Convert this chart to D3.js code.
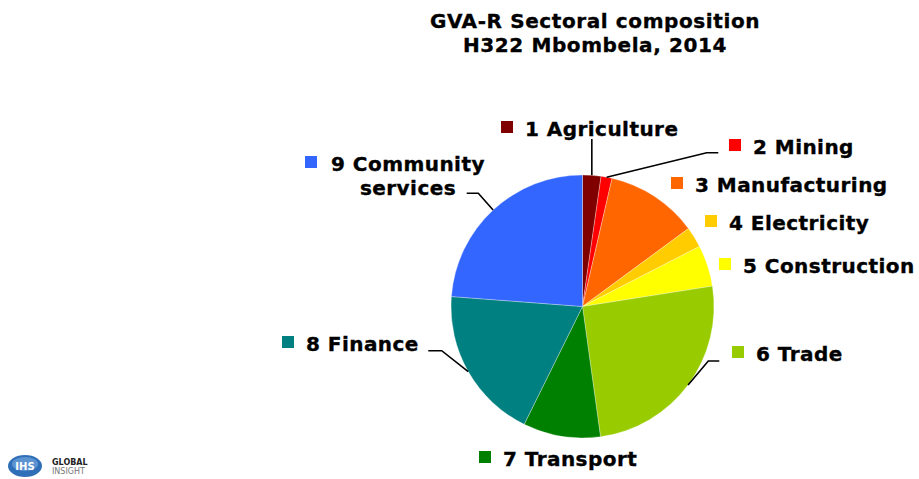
<!DOCTYPE html>
<html>
<head>
<meta charset="utf-8">
<script src="https://cdn.jsdelivr.net/npm/d3@7/dist/d3.min.js"></script>
<style>
    body { margin: 0; background: #fff; }
    svg text { font-family: "DejaVu Sans", Verdana, sans-serif; font-weight: bold; fill: #000; }
</style>
</head>
<body>
<div id="chart"></div>
<script>
// data (share of GVA-R, %)
const sectors = ["1 Agriculture", "2 Mining", "3 Manufacturing", "4 Electricity", "5 Construction",
    "6 Trade", "7 Transport", "8 Finance", "9 Community services"];
const shares = [2.26, 1.35, 11.3, 2.55, 5.07, 25.3, 9.5, 18.9, 23.8];
const colours = ["#800000", "#ff0000", "#ff6600", "#ffcc00", "#ffff00",
    "#99cc00", "#008000", "#008080", "#3366ff"];
const titleLines = ["GVA-R Sectoral composition", "H322 Mbombela, 2014"];

const width = 919, height = 479;
const cx = 582.5, cy = 306.5, radius = 131.5;

// where each legend label sits; elbow = leader line bend points (label side last)
const labelLayout = [
    { x: 501, y: 136, elbow: [[592, 139]] },
    { x: 729, y: 154, elbow: [[706.7, 152.7], [718.3, 152.7]] },
    { x: 671, y: 192 },
    { x: 705, y: 230 },
    { x: 719, y: 273 },
    { x: 732, y: 361, elbow: [[708.3, 361], [719.3, 361]] },
    { x: 479, y: 466 },
    { x: 282, y: 351, elbow: [[441.7, 350.7], [428.3, 350.7]] },
    { x: 305, y: 171, wrapAt: 408, elbow: [[478.3, 193.3], [466.7, 193.3]] }
];

const svg = d3.select("#chart").append("svg")
    .attr("width", width)
    .attr("height", height);

// title
svg.append("g").selectAll("text")
    .data(titleLines)
    .join("text")
    .attr("x", 595)
    .attr("y", (d, i) => 27.5 + i * 24)
    .attr("text-anchor", "middle")
    .style("font-size", "20px")
    .style("letter-spacing", "0.6px")
    .style("stroke", "#000")
    .style("stroke-width", "0.35px")
    .text(d => d);

const pie = d3.pie().sort(null).value(d => d);
const arcs = pie(shares);
const arc = d3.arc().innerRadius(0).outerRadius(radius);
const edge = d3.arc().innerRadius(radius).outerRadius(radius);

const g = svg.append("g").attr("transform", `translate(${cx},${cy})`);

g.selectAll("path.slice")
    .data(arcs)
    .join("path")
    .attr("class", "slice")
    .attr("d", arc)
    .attr("fill", (d, i) => colours[i])
    .attr("stroke", "#ffffff")
    .attr("stroke-opacity", 0.5)
    .attr("stroke-width", 0.6);

// leader lines
const line = d3.line();
arcs.forEach((d, i) => {
    const lay = labelLayout[i];
    if (!lay.elbow) return;
    const [ex, ey] = edge.centroid(d);
    const pts = [[ex + cx, ey + cy]].concat(lay.elbow);
    if (i === 0) pts[1] = [pts[0][0], lay.elbow[0][1]];
    svg.append("path")
        .attr("d", line(pts))
        .attr("fill", "none")
        .attr("stroke", "#000")
        .attr("stroke-width", 1.6);
});

// labels
const labels = svg.append("g").selectAll("g")
    .data(sectors)
    .join("g");

labels.append("rect")
    .attr("x", (d, i) => labelLayout[i].x)
    .attr("y", (d, i) => labelLayout[i].y - 15)
    .attr("width", 12)
    .attr("height", 12)
    .attr("fill", (d, i) => colours[i]);

labels.each(function (d, i) {
    const lay = labelLayout[i];
    const t = d3.select(this).append("text")
        .style("font-size", "20px")
        .style("letter-spacing", "0.45px")
        .style("stroke", "#000")
        .style("stroke-width", "0.35px");
    if (lay.wrapAt) {
        const words = d.split(" ");
        t.attr("text-anchor", "middle");
        t.append("tspan").attr("x", lay.wrapAt).attr("y", lay.y).text(words.slice(0, 2).join(" "));
        t.append("tspan").attr("x", lay.wrapAt).attr("y", lay.y + 24).text(words.slice(2).join(" "));
    } else {
        t.attr("x", lay.x + 24).attr("y", lay.y).text(d);
    }
});

// IHS Global Insight logo
const logo = svg.append("g").attr("transform", "translate(25,466)");
logo.append("ellipse").attr("rx", 17).attr("ry", 11).attr("fill", "#2f6fb8");
logo.append("ellipse").attr("rx", 13).attr("ry", 7).attr("cy", -2).attr("fill", "#6fa3db").attr("opacity", 0.7);
logo.append("text").attr("text-anchor", "middle").attr("y", 4)
    .style("font-size", "10px").style("fill", "#fff").text("IHS");
logo.append("text").attr("x", 27).attr("y", -1)
    .style("font-size", "8px").style("fill", "#222").text("GLOBAL");
logo.append("text").attr("x", 27).attr("y", 8)
    .style("font-size", "8px").style("font-weight", "normal").style("fill", "#777").text("INSIGHT");
</script>
</body>
</html>
